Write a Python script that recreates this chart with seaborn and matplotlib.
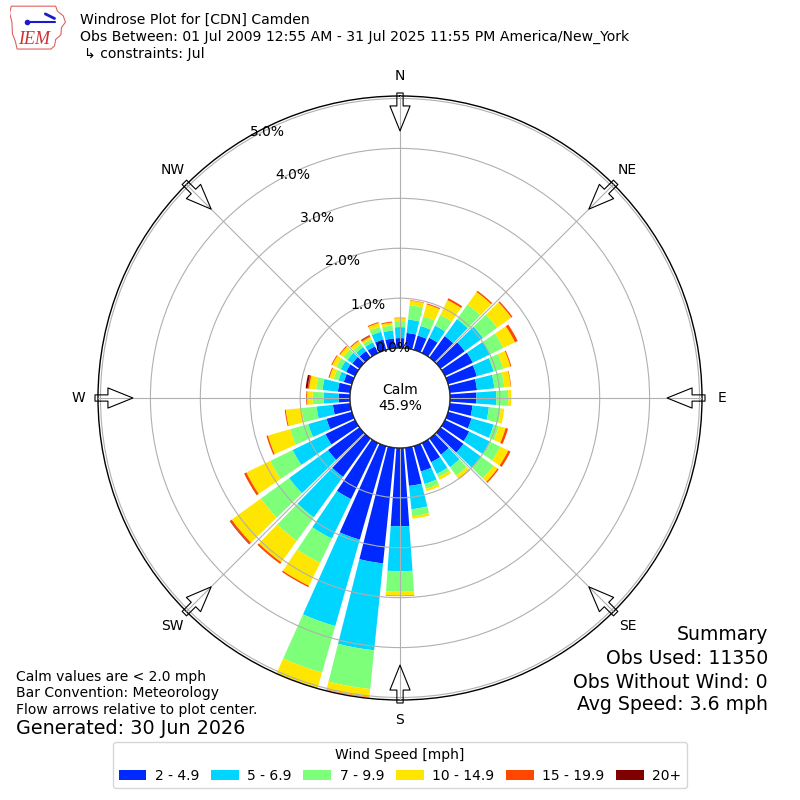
import numpy as np
import matplotlib
matplotlib.use("Agg")
import matplotlib.pyplot as plt
import seaborn as sns
from matplotlib.patches import Patch, Polygon

# 风向 (度, 气象约定: 风的来向)
directions = np.arange(0, 360, 10)

speed_labels = ["2 - 4.9", "5 - 6.9", "7 - 9.9", "10 - 14.9", "15 - 19.9", "20+"]

# 各风速段频率 (%), 顺序对应 directions
pct_2_5 = [0.20, 0.31, 0.30, 0.34, 0.53, 0.60, 0.62, 0.60, 0.55, 0.53, 0.46, 0.49,
           0.54, 0.57, 0.40, 0.43, 0.53, 0.77, 1.57, 2.33, 1.95, 1.25, 0.95, 0.78,
           0.66, 0.53, 0.35, 0.23, 0.25, 0.17, 0.20, 0.18, 0.16, 0.15, 0.22, 0.20]
pct_5_7 = [0.22, 0.27, 0.20, 0.27, 0.42, 0.45, 0.38, 0.35, 0.35, 0.40, 0.33, 0.46,
           0.46, 0.43, 0.31, 0.26, 0.26, 0.47, 0.90, 1.75, 1.80, 0.88, 1.00, 0.96,
           0.73, 0.38, 0.33, 0.30, 0.31, 0.11, 0.12, 0.12, 0.10, 0.09, 0.16, 0.16]
pct_7_10 = [0.12, 0.29, 0.20, 0.24, 0.36, 0.35, 0.30, 0.20, 0.20, 0.24, 0.24, 0.11,
            0.23, 0.31, 0.21, 0.07, 0.10, 0.14, 0.41, 0.78, 0.97, 0.54, 0.58, 0.70,
            0.50, 0.38, 0.30, 0.22, 0.13, 0.10, 0.10, 0.10, 0.08, 0.07, 0.10, 0.10]
pct_10_15 = [0.06, 0.09, 0.25, 0.33, 0.31, 0.35, 0.26, 0.15, 0.13, 0.06, 0.07, 0.14,
             0.18, 0.10, 0.08, 0.06, 0.05, 0.05, 0.08, 0.16, 0.33, 0.51, 0.53, 0.72,
             0.53, 0.46, 0.32, 0.11, 0.14, 0.09, 0.09, 0.08, 0.07, 0.05, 0.08, 0.06]
pct_15_20 = [0.01, 0.01, 0.02, 0.04, 0.03, 0.03, 0.06, 0.02, 0.01, 0.00, 0.00, 0.05,
             0.05, 0.03, 0.01, 0.00, 0.00, 0.00, 0.01, 0.01, 0.01, 0.03, 0.04, 0.04,
             0.05, 0.03, 0.02, 0.02, 0.03, 0.02, 0.02, 0.02, 0.02, 0.03, 0.02, 0.02]
pct_20p = [0.00, 0.00, 0.00, 0.00, 0.00, 0.00, 0.00, 0.00, 0.00, 0.00, 0.00, 0.00,
           0.00, 0.00, 0.00, 0.00, 0.00, 0.00, 0.00, 0.00, 0.00, 0.00, 0.00, 0.01,
           0.00, 0.00, 0.00, 0.00, 0.04, 0.00, 0.00, 0.00, 0.00, 0.01, 0.00, 0.00]

calm_pct = 45.9
obs_used = 11350
obs_without_wind = 0
avg_speed = 3.6

compass = ["N", "NE", "E", "SE", "S", "SW", "W", "NW"]

# 样式
sns.set_style("white")
plt.rcParams["font.family"] = ["DejaVu Sans"]
plt.rcParams["text.color"] = "black"
plt.rcParams["xtick.color"] = "black"
plt.rcParams["ytick.color"] = "black"
plt.rcParams["axes.labelcolor"] = "black"
colors = sns.color_palette(plt.get_cmap("jet")(np.arange(1, 7) / 6.0))

fig = plt.figure(figsize=(8, 8), dpi=100)
ax = fig.add_axes([0.1225, 0.125, 0.755, 0.755], projection="polar")
ax.set_theta_zero_location("N")
ax.set_theta_direction(-1)
ax.set_ylim(0, 5.05)
ax.set_rorigin(-1)

# 堆叠柱
theta = np.deg2rad(directions)
width = np.deg2rad(10) * 0.83
bottom = np.zeros(len(directions))
series = [pct_2_5, pct_5_7, pct_7_10, pct_10_15, pct_15_20, pct_20p]
for vals, c in zip(series, colors):
    vals = np.array(vals)
    ax.bar(theta, vals, width=width, bottom=bottom, color=c, linewidth=0, zorder=1)
    bottom += vals

# 网格 / 刻度
ax.set_axisbelow(False)
ax.grid(True, color="#b0b0b0", linewidth=0.8)
ax.set_xticks(np.deg2rad(np.arange(0, 360, 45)))
ax.set_xticklabels([])
ax.set_yticks(np.arange(0, 6))
ax.set_yticklabels([f"{v:.1f}%" for v in range(6)])
ax.set_rlabel_position(330)
ax.tick_params(axis="y", labelsize=10, labelcolor="black")
ax.spines["polar"].set_color("black")
ax.spines["polar"].set_linewidth(1.0)

# 方位标签 + 箭头
for i, lab in enumerate(compass):
    th = np.deg2rad(i * 45)
    ax.text(th, 5.45, lab, ha="center", va="center", fontsize=10, clip_on=False)
    ax.annotate("", xy=(th, 4.35), xytext=(th, 5.11),
                arrowprops=dict(arrowstyle="simple,head_length=1.8,head_width=1.45,tail_width=0.45",
                                fc="none", ec="black", lw=0.8, shrinkA=0, shrinkB=0,
                                mutation_scale=10),
                annotation_clip=False)

# 静风
ring = np.linspace(0, 2 * np.pi, 361)
ax.plot(ring, np.zeros_like(ring), color="black", lw=1.0, zorder=3)
ax.text(0.5, 0.5, f"Calm\n{calm_pct:.1f}%", transform=ax.transAxes,
        ha="center", va="center", fontsize=10)

# 标题
fig.text(0.1, 1 - 20 / 800, "Windrose Plot for [CDN] Camden", fontsize=10.1, va="center")
fig.text(0.1, 1 - 37 / 800,
         "Obs Between: 01 Jul 2009 12:55 AM - 31 Jul 2025 11:55 PM America/New_York",
         fontsize=10.1, va="center")
fig.text(0.105, 1 - 54 / 800, "\u21b3 constraints: Jul", fontsize=10.1, va="center")

# 左下说明
fig.text(0.02, 1 - 677 / 800, "Calm values are < 2.0 mph", fontsize=10, va="center")
fig.text(0.02, 1 - 693 / 800, "Bar Convention: Meteorology", fontsize=10, va="center")
fig.text(0.02, 1 - 710 / 800, "Flow arrows relative to plot center.", fontsize=10, va="center")
fig.text(0.02, 1 - 729 / 800, "Generated: 30 Jun 2026", fontsize=13.8, va="center")

# 右下汇总
fig.text(0.96, 1 - 635 / 800, "Summary", fontsize=13.6, ha="right", va="center")
fig.text(0.96, 1 - 659 / 800, f"Obs Used: {obs_used}", fontsize=13.6, ha="right", va="center")
fig.text(0.96, 1 - 682 / 800, f"Obs Without Wind: {obs_without_wind}", fontsize=13.6,
         ha="right", va="center")
fig.text(0.96, 1 - 705 / 800, f"Avg Speed: {avg_speed} mph", fontsize=13.6, ha="right",
         va="center")

# 图例
handles = [Patch(facecolor=c, edgecolor="none", label=l) for c, l in zip(colors, speed_labels)]
fig.legend(handles=handles, loc="lower center", bbox_to_anchor=(0.5, 0.006), ncol=6,
           title="Wind Speed [mph]", fontsize=10, title_fontsize=10, frameon=True,
           handlelength=2.0, handletextpad=0.6, columnspacing=0.85)

# IEM 标志 (简化)
lax = fig.add_axes([0.012, 0.937, 0.072, 0.057])
lax.set_xlim(0, 1)
lax.set_ylim(0, 1)
lax.axis("off")
iowa = [(0.03, 0.97), (0.80, 0.97), (0.83, 0.86), (0.93, 0.76), (0.97, 0.62),
        (0.90, 0.50), (0.89, 0.34), (0.80, 0.24), (0.78, 0.10), (0.72, 0.03),
        (0.13, 0.03), (0.10, 0.20), (0.05, 0.36), (0.04, 0.62), (0.0, 0.82)]
lax.add_patch(Polygon(iowa, closed=True, fill=False, edgecolor="#e06060", lw=0.8))
lax.plot([0.30, 0.78], [0.62, 0.62], color="#1a1acc", lw=1.5)
lax.plot([0.30], [0.62], "o", color="#1a1acc", ms=3)
lax.plot([0.62, 0.78], [0.80, 0.70], color="#1a1acc", lw=2)
lax.text(0.14, 0.24, "IEM", fontsize=13, color="#d03030", style="italic",
         family=["Liberation Serif", "DejaVu Serif"], va="center")

fig.savefig("out.png", dpi=100)
